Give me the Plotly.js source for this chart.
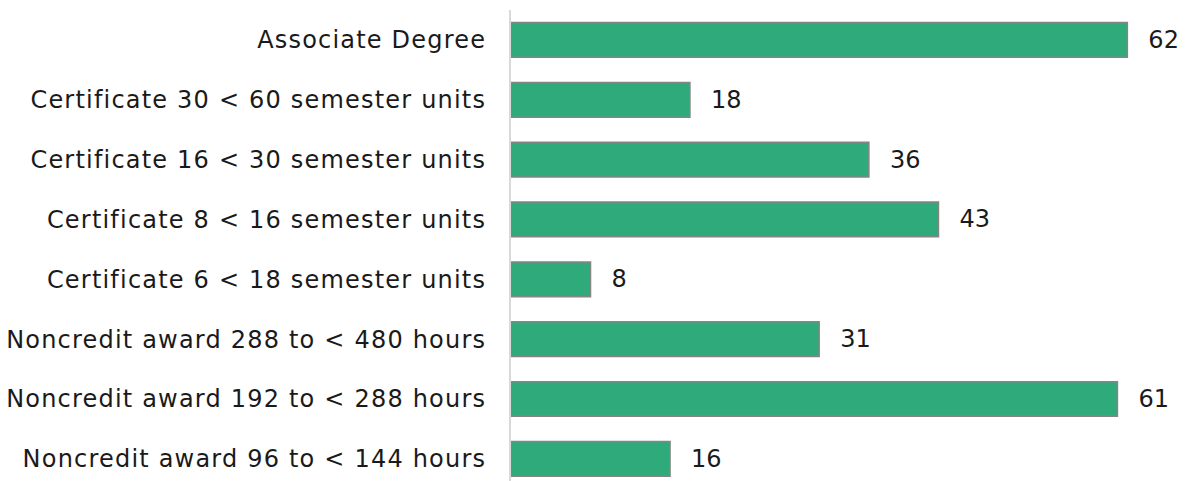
<!DOCTYPE html>
<html><head><meta charset="utf-8">
<script src="https://cdn.plot.ly/plotly-3.0.1.min.js"></script>
<style>html,body{margin:0;padding:0;background:#fff}#c{width:1189px;height:481px}
#c .ytick text{letter-spacing:1.2px}</style>
</head><body><div id="c"></div>
<script>
const categories = [
  "Associate Degree",
  "Certificate 30 < 60 semester units",
  "Certificate 16 < 30 semester units",
  "Certificate 8 < 16 semester units",
  "Certificate 6 < 18 semester units",
  "Noncredit award 288 to < 480 hours",
  "Noncredit award 192 to < 288 hours",
  "Noncredit award 96 to < 144 hours"
];
const values = [62, 18, 36, 43, 8, 31, 61, 16];

const fontFam = "'DejaVu Sans', sans-serif";
Plotly.newPlot('c', [{
  type: 'bar',
  orientation: 'h',
  y: categories,
  x: values,
  text: values.map(v => '\u2002\u2005' + v),
  textposition: 'outside',
  cliponaxis: false,
  textfont: {family: fontFam, size: 24, color: '#1a1a1a'},
  marker: {color: '#2FAA7B', line: {color: '#858585', width: 1.5}},
  hoverinfo: 'none'
}], {
  width: 1189, height: 481,
  margin: {l: 511, r: 0, t: 10, b: 0},
  paper_bgcolor: '#fff', plot_bgcolor: '#fff',
  bargap: 0.42,
  showlegend: false,
  xaxis: {range: [0, 68.2], visible: false, showgrid: false, zeroline: false},
  yaxis: {
    type: 'category',
    range: [7.37, -0.5],
    showline: true, linecolor: '#d9d9d9', linewidth: 2,
    showgrid: false, zeroline: false, ticks: '',
    ticklabelstandoff: 18,
    tickfont: {family: fontFam, size: 24, color: '#1a1a1a'}
  },
  font: {family: fontFam}
}, {displayModeBar: false, staticPlot: true});
</script></body></html>
